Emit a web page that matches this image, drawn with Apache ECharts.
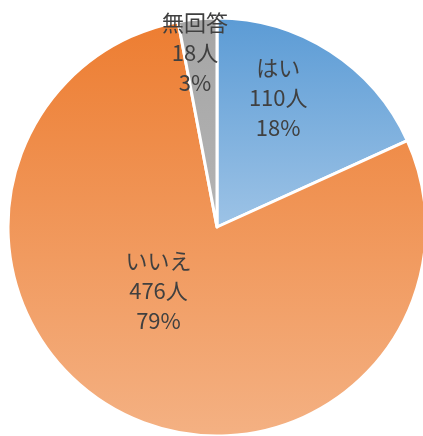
<!DOCTYPE html>
<html>
<head>
<meta charset="utf-8">
<style>html,body{margin:0;padding:0;background:#fff;}#c{width:423px;height:436px;}</style>
<script src="https://cdn.jsdelivr.net/npm/echarts@6/dist/echarts.min.js"></script>
</head>
<body>
<div id="c"></div>
<script>
const categories = ['はい', 'いいえ', '無回答'];
const values = [110, 476, 18];
const gradTop = ['#5B9BD5', '#ED7D31', '#A5A5A5'];
const gradBottom = ['#9DC3E6', '#F4B183', '#B4B4B4'];
const labelOffsets = [[3, -39], [-9, -32], [-12, -67]];

const chart = echarts.init(document.getElementById('c'), null, {renderer: 'canvas'});
chart.setOption({
  animation: false,
  series: [{
    type: 'pie',
    center: [217, 227],
    radius: 209,
    startAngle: 90,
    clockwise: true,
    percentPrecision: 0,
    avoidLabelOverlap: false,
    itemStyle: {borderColor: '#fff', borderWidth: 3},
    label: {
      show: true,
      position: 'inside',
      formatter: '{b}\n{c}人\n{d}%',
      fontFamily: '"Noto Sans CJK JP"',
      fontSize: 22,
      lineHeight: 30,
      color: '#404040',
      textBorderWidth: 0
    },
    labelLine: {show: false},
    emphasis: {disabled: true},
    data: categories.map((name, i) => ({
      name: name,
      value: values[i],
      itemStyle: {
        color: new echarts.graphic.LinearGradient(0, 0, 0, 1, [
          {offset: 0, color: gradTop[i]},
          {offset: 1, color: gradBottom[i]}
        ])
      },
      label: {offset: labelOffsets[i]}
    }))
  }]
});
</script>
</body>
</html>
